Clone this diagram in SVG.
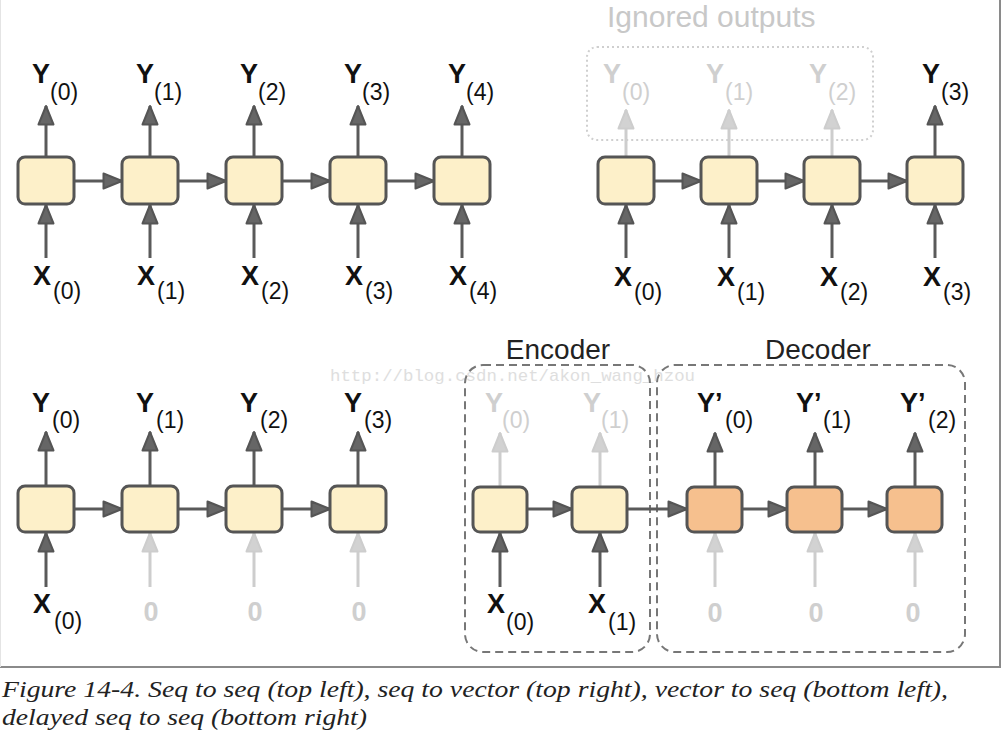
<svg xmlns="http://www.w3.org/2000/svg" width="1004" height="753" viewBox="0 0 1004 753">
<defs>
<style>
.cell{fill:#fdf0c9;stroke:#555;stroke-width:3}
.dec{fill:#f6c08e;stroke:#555;stroke-width:3}
.c{stroke:#5a5a5a;stroke-width:3;fill:none;marker-end:url(#ad)}
.f{stroke:#cdcdcd;stroke-width:3;fill:none;marker-end:url(#af)}
.B{font-family:"Liberation Sans",Arial,sans-serif;font-weight:bold;font-size:27px;fill:#111}
.S{font-family:"Liberation Sans",Arial,sans-serif;font-size:23px;fill:#111}
.fB{font-family:"Liberation Sans",Arial,sans-serif;font-weight:bold;font-size:27px;fill:#cfcfcf}
.fS{font-family:"Liberation Sans",Arial,sans-serif;font-size:23px;fill:#cfcfcf}
.T{font-family:"Liberation Sans",Arial,sans-serif;font-size:28px;fill:#222}
.cap{font-family:"Liberation Serif","Times New Roman",serif;font-style:italic;font-size:24px;fill:#222}
</style>
<marker id="ad" markerUnits="userSpaceOnUse" markerWidth="22" markerHeight="18" refX="20" refY="9" orient="auto" viewBox="0 0 22 18"><path d="M1.5,1.5 L20,9 L1.5,16.5 z" fill="#666" stroke="#555" stroke-width="2" stroke-linejoin="round"/></marker>
<marker id="af" markerUnits="userSpaceOnUse" markerWidth="22" markerHeight="18" refX="20" refY="9" orient="auto" viewBox="0 0 22 18"><path d="M1.5,1.5 L20,9 L1.5,16.5 z" fill="#d2d2d2" stroke="#cdcdcd" stroke-width="2" stroke-linejoin="round"/></marker>
</defs>
<rect width="1004" height="753" fill="#fff"/>
<g id="frame" stroke="#8a8a8a" stroke-width="2"><line x1="1000" y1="0" x2="1000" y2="668"/><line x1="0" y1="667" x2="1001" y2="667"/><line x1="0.5" y1="0" x2="0.5" y2="667" stroke="#e4e4e4" stroke-width="1"/></g>
<text id="watermark" x="330" y="381" font-family="'Liberation Mono','Courier New',monospace" font-size="17" fill="#dedede" textLength="365" lengthAdjust="spacingAndGlyphs">http://blog.csdn.net/akon_wang_hzou</text>

<g id="groups">
<g id="ignored-outputs"><rect x="587" y="47" width="286" height="93" rx="10" fill="none" stroke="#cfcfcf" stroke-width="2" stroke-dasharray="2 3"/><text class="T" x="607" y="27" style="font-size:30px;fill:#c8c8c8">Ignored outputs</text></g>
<g id="encoder"><rect x="465" y="365" width="185" height="287" rx="18" fill="none" stroke="#777" stroke-width="2" stroke-dasharray="8 5"/><text class="T" x="558" y="359" text-anchor="middle">Encoder</text></g>
<g id="decoder"><rect x="657" y="365" width="308" height="287" rx="18" fill="none" stroke="#777" stroke-width="2" stroke-dasharray="8 5"/><text class="T" x="818" y="359" text-anchor="middle">Decoder</text></g>
</g>

<g id="connectors">
<line class="c" x1="46" y1="157" x2="46" y2="106"/><line class="c" x1="150" y1="157" x2="150" y2="106"/><line class="c" x1="254" y1="157" x2="254" y2="106"/><line class="c" x1="358" y1="157" x2="358" y2="106"/><line class="c" x1="462" y1="157" x2="462" y2="106"/>
<line class="c" x1="46" y1="258" x2="46" y2="205"/><line class="c" x1="150" y1="258" x2="150" y2="205"/><line class="c" x1="254" y1="258" x2="254" y2="205"/><line class="c" x1="358" y1="258" x2="358" y2="205"/><line class="c" x1="462" y1="258" x2="462" y2="205"/>
<line class="c" x1="74" y1="181" x2="122" y2="181"/><line class="c" x1="178" y1="181" x2="226" y2="181"/><line class="c" x1="282" y1="181" x2="330" y2="181"/><line class="c" x1="386" y1="181" x2="434" y2="181"/>
<line class="f" x1="626" y1="157" x2="626" y2="110"/><line class="f" x1="729" y1="157" x2="729" y2="110"/><line class="f" x1="832" y1="157" x2="832" y2="110"/><line class="c" x1="935" y1="157" x2="935" y2="106"/>
<line class="c" x1="626" y1="258" x2="626" y2="205"/><line class="c" x1="729" y1="258" x2="729" y2="205"/><line class="c" x1="832" y1="258" x2="832" y2="205"/><line class="c" x1="935" y1="258" x2="935" y2="205"/>
<line class="c" x1="654" y1="181" x2="701" y2="181"/><line class="c" x1="757" y1="181" x2="804" y2="181"/><line class="c" x1="860" y1="181" x2="907" y2="181"/>
<line class="c" x1="46" y1="486" x2="46" y2="432"/><line class="c" x1="150" y1="486" x2="150" y2="432"/><line class="c" x1="254" y1="486" x2="254" y2="432"/><line class="c" x1="358" y1="486" x2="358" y2="432"/>
<line class="c" x1="46" y1="587" x2="46" y2="533"/><line class="f" x1="150" y1="587" x2="150" y2="533"/><line class="f" x1="254" y1="587" x2="254" y2="533"/><line class="f" x1="358" y1="587" x2="358" y2="533"/>
<line class="c" x1="74" y1="509" x2="122" y2="509"/><line class="c" x1="178" y1="509" x2="226" y2="509"/><line class="c" x1="282" y1="509" x2="330" y2="509"/>
<line class="f" x1="500" y1="487" x2="500" y2="433"/><line class="f" x1="600" y1="487" x2="600" y2="433"/><line class="c" x1="715" y1="487" x2="715" y2="433"/><line class="c" x1="815" y1="487" x2="815" y2="433"/><line class="c" x1="915" y1="487" x2="915" y2="433"/>
<line class="c" x1="500" y1="587" x2="500" y2="533"/><line class="c" x1="600" y1="587" x2="600" y2="533"/><line class="f" x1="715" y1="587" x2="715" y2="533"/><line class="f" x1="815" y1="587" x2="815" y2="533"/><line class="f" x1="915" y1="587" x2="915" y2="533"/>
<line class="c" x1="527" y1="509" x2="572" y2="509"/><line class="c" x1="627" y1="509" x2="687" y2="509"/><line class="c" x1="742" y1="509" x2="787" y2="509"/><line class="c" x1="842" y1="509" x2="887" y2="509"/>
</g>

<g id="nodes">
<g id="tl0"><rect class="cell" x="18" y="157" width="56" height="47" rx="7"/><text class="B" x="32" y="83">Y</text><text class="S" x="50" y="100">(0)</text><text class="B" x="33" y="285">X</text><text class="S" x="53" y="299">(0)</text></g>
<g id="tl1"><rect class="cell" x="122" y="157" width="56" height="47" rx="7"/><text class="B" x="136" y="83">Y</text><text class="S" x="154" y="100">(1)</text><text class="B" x="137" y="285">X</text><text class="S" x="157" y="299">(1)</text></g>
<g id="tl2"><rect class="cell" x="226" y="157" width="56" height="47" rx="7"/><text class="B" x="240" y="83">Y</text><text class="S" x="258" y="100">(2)</text><text class="B" x="241" y="285">X</text><text class="S" x="261" y="299">(2)</text></g>
<g id="tl3"><rect class="cell" x="330" y="157" width="56" height="47" rx="7"/><text class="B" x="344" y="83">Y</text><text class="S" x="362" y="100">(3)</text><text class="B" x="345" y="285">X</text><text class="S" x="365" y="299">(3)</text></g>
<g id="tl4"><rect class="cell" x="434" y="157" width="56" height="47" rx="7"/><text class="B" x="448" y="83">Y</text><text class="S" x="466" y="100">(4)</text><text class="B" x="449" y="285">X</text><text class="S" x="469" y="299">(4)</text></g>

<g id="tr0"><rect class="cell" x="598" y="157" width="56" height="47" rx="7"/><text class="fB" x="603" y="83">Y</text><text class="fS" x="622" y="100">(0)</text><text class="B" x="614" y="286">X</text><text class="S" x="634" y="300">(0)</text></g>
<g id="tr1"><rect class="cell" x="701" y="157" width="56" height="47" rx="7"/><text class="fB" x="706" y="83">Y</text><text class="fS" x="725" y="100">(1)</text><text class="B" x="717" y="286">X</text><text class="S" x="737" y="300">(1)</text></g>
<g id="tr2"><rect class="cell" x="804" y="157" width="56" height="47" rx="7"/><text class="fB" x="809" y="83">Y</text><text class="fS" x="828" y="100">(2)</text><text class="B" x="820" y="286">X</text><text class="S" x="840" y="300">(2)</text></g>
<g id="tr3"><rect class="cell" x="907" y="157" width="56" height="47" rx="7"/><text class="B" x="922" y="83">Y</text><text class="S" x="941" y="100">(3)</text><text class="B" x="923" y="286">X</text><text class="S" x="943" y="300">(3)</text></g>

<g id="bl0"><rect class="cell" x="18" y="486" width="56" height="46" rx="7"/><text class="B" x="32" y="412">Y</text><text class="S" x="52" y="428">(0)</text><text class="B" x="33" y="613">X</text><text class="S" x="54" y="629">(0)</text></g>
<g id="bl1"><rect class="cell" x="122" y="486" width="56" height="46" rx="7"/><text class="B" x="136" y="412">Y</text><text class="S" x="156" y="428">(1)</text><text class="fB" x="151" y="621" text-anchor="middle">0</text></g>
<g id="bl2"><rect class="cell" x="226" y="486" width="56" height="46" rx="7"/><text class="B" x="240" y="412">Y</text><text class="S" x="260" y="428">(2)</text><text class="fB" x="255" y="621" text-anchor="middle">0</text></g>
<g id="bl3"><rect class="cell" x="330" y="486" width="56" height="46" rx="7"/><text class="B" x="344" y="412">Y</text><text class="S" x="364" y="428">(3)</text><text class="fB" x="359" y="621" text-anchor="middle">0</text></g>

<g id="enc0"><rect class="cell" x="473" y="487" width="54" height="45" rx="7"/><text class="fB" x="485" y="412">Y</text><text class="fS" x="502" y="428">(0)</text><text class="B" x="487" y="613">X</text><text class="S" x="506" y="630">(0)</text></g>
<g id="enc1"><rect class="cell" x="572" y="487" width="55" height="45" rx="7"/><text class="fB" x="583" y="412">Y</text><text class="fS" x="601" y="428">(1)</text><text class="B" x="588" y="613">X</text><text class="S" x="608" y="630">(1)</text></g>
<g id="dec0"><rect class="dec" x="687" y="487" width="55" height="45" rx="7"/><text class="B" x="697" y="412">Y’</text><text class="S" x="725" y="428">(0)</text><text class="fB" x="715" y="622" text-anchor="middle">0</text></g>
<g id="dec1"><rect class="dec" x="787" y="487" width="55" height="45" rx="7"/><text class="B" x="796" y="412">Y’</text><text class="S" x="823" y="428">(1)</text><text class="fB" x="816" y="622" text-anchor="middle">0</text></g>
<g id="dec2"><rect class="dec" x="887" y="487" width="55" height="45" rx="7"/><text class="B" x="900" y="412">Y’</text><text class="S" x="928" y="428">(2)</text><text class="fB" x="913" y="622" text-anchor="middle">0</text></g>
</g>

<g id="caption">
<text class="cap" x="2" y="697" textLength="946" lengthAdjust="spacingAndGlyphs">Figure 14-4. Seq to seq (top left), seq to vector (top right), vector to seq (bottom left),</text>
<text class="cap" x="2" y="725" textLength="365" lengthAdjust="spacingAndGlyphs">delayed seq to seq (bottom right)</text>
</g>
</svg>
